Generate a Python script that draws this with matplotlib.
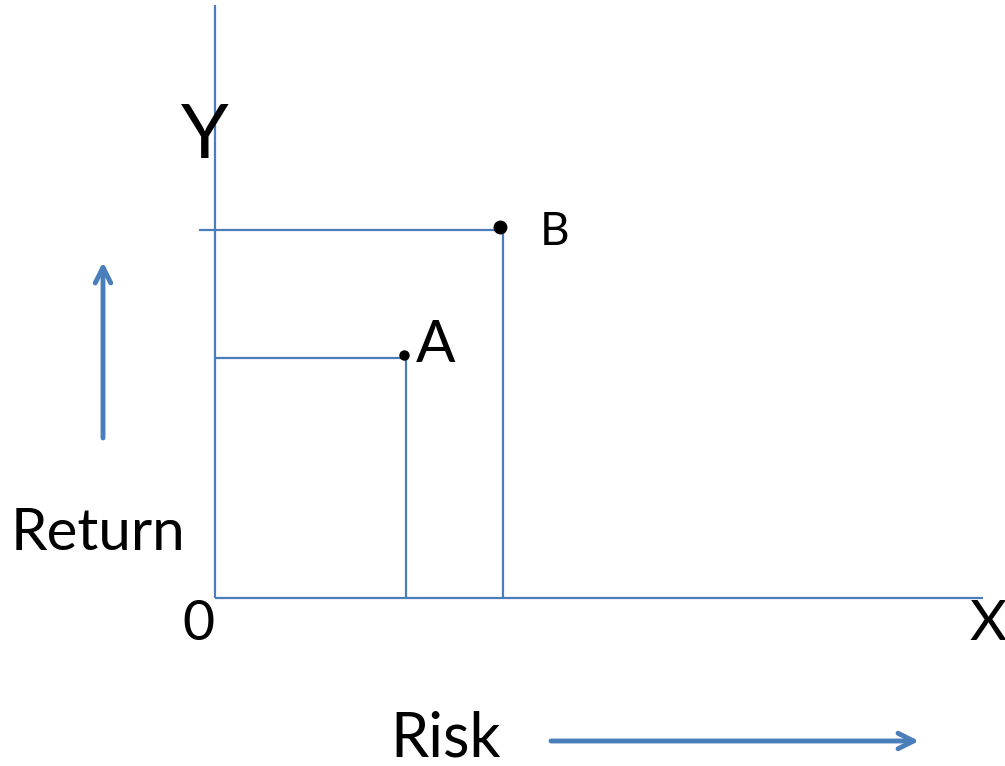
import matplotlib
matplotlib.use("Agg")
import matplotlib.pyplot as plt

# Data (1 unit = 100 px in the reference; origin at the axis corner)
points = ["A", "B"]
risk = [1.91, 2.88]
ret = [2.40, 3.68]
x_axis_end = 7.68
y_axis_end = 5.93
b_tick_start = -0.16

BLUE = "#4A7EBB"
FONT = "Lato"

fig = plt.figure(figsize=(10.05, 7.66), dpi=100)
ax = fig.add_axes([0, 0, 1, 1])
ax.set_xlim(-2.15, 7.90)
ax.set_ylim(-1.68, 5.98)
ax.axis("off")

# axes lines
ax.plot([0, 0], [0, y_axis_end], color=BLUE, lw=1.6, solid_capstyle="butt")
ax.plot([0, x_axis_end], [0, 0], color=BLUE, lw=1.6, solid_capstyle="butt")

# guide lines
starts = [0, b_tick_start]
for xs, r, y in zip(starts, risk, ret):
    ax.plot([xs, r], [y, y], color=BLUE, lw=1.6, solid_capstyle="butt")
    ax.plot([r, r], [0, y], color=BLUE, lw=1.6, solid_capstyle="butt")

# dots
ax.plot([risk[0] - 0.02], [ret[0] + 0.03], "o", color="black", ms=6.5)
ax.plot([risk[1] - 0.03], [ret[1] + 0.03], "o", color="black", ms=9)

# point labels
ax.text(risk[0] + 0.10, ret[0] + 0.13, points[0], fontsize=42, family=FONT,
        ha="left", va="center")
ax.text(risk[1] + 0.37, ret[1] - 0.02, points[1], fontsize=33, family=FONT,
        ha="left", va="center")

# axis letters
ax.text(-0.10, 4.62, "Y", fontsize=55, family=FONT, ha="center", va="center")
ax.text(-0.17, -0.27, "0", fontsize=40, family=FONT, ha="center", va="center")
ax.text(7.73, -0.27, "X", fontsize=41, family=FONT, ha="center", va="center")
ax.text(-1.17, 0.64, "Return", fontsize=42, family=FONT, ha="center", va="center")
ax.text(2.31, -1.41, "Risk", fontsize=44, family=FONT, ha="center", va="center")

# arrows
ax.annotate("", xy=(-1.12, 3.36), xytext=(-1.12, 1.60),
            arrowprops=dict(arrowstyle="->", color=BLUE, lw=3.5,
                            mutation_scale=28, shrinkA=0, shrinkB=0))
ax.annotate("", xy=(7.04, -1.43), xytext=(3.36, -1.43),
            arrowprops=dict(arrowstyle="->", color=BLUE, lw=3.5,
                            mutation_scale=28, shrinkA=0, shrinkB=0))

fig.savefig("out.png", dpi=100)
